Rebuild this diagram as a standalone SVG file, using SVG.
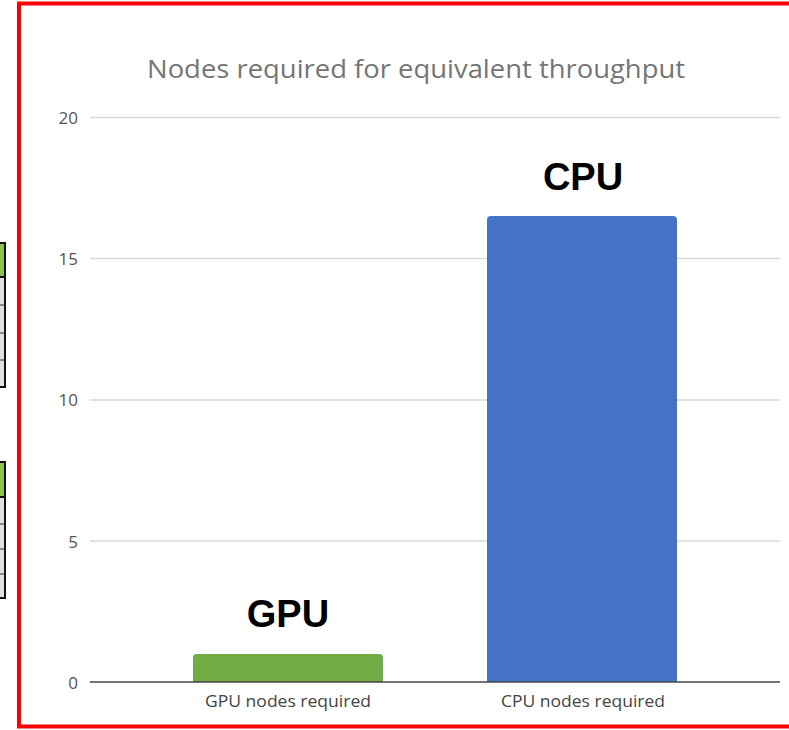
<svg xmlns="http://www.w3.org/2000/svg" width="789" height="730" viewBox="0 0 789 730">
<style>
.grid{stroke:#d9d9d9;stroke-width:1.5}
.tick{font-family:"Open Sans",sans-serif;font-size:17px;fill:#555;text-anchor:end}
.cat{font-family:"Open Sans",sans-serif;font-size:16.5px;fill:#444;text-anchor:middle}
.big{font-family:"Liberation Sans",Arial,sans-serif;font-size:38px;font-weight:bold;fill:#000;text-anchor:middle}
</style>
<rect width="789" height="730" fill="#fff"/>
<g id="fragments">
<rect x="-10" y="243" width="15" height="34" fill="#8dc34a" stroke="#111" stroke-width="2"/>
<rect x="-10" y="277" width="15" height="110" fill="#e0e0e0" stroke="#111" stroke-width="2"/>
<line x1="-10" y1="305" x2="5" y2="305" stroke="#333"/>
<line x1="-10" y1="333" x2="5" y2="333" stroke="#333"/>
<line x1="-10" y1="360" x2="5" y2="360" stroke="#333"/>
<rect x="-10" y="462" width="15" height="35" fill="#8dc34a" stroke="#111" stroke-width="2"/>
<rect x="-10" y="497" width="15" height="101" fill="#e0e0e0" stroke="#111" stroke-width="2"/>
<line x1="-10" y1="524" x2="5" y2="524" stroke="#333"/>
<line x1="-10" y1="549" x2="5" y2="549" stroke="#333"/>
<line x1="-10" y1="574" x2="5" y2="574" stroke="#333"/>
</g>
<g id="frame">
<rect x="19" y="3.5" width="790" height="723" fill="#fff" stroke="#ff0000" stroke-width="4"/>
</g>
<g id="title">
<text x="416" y="78" font-family="'Open Sans',sans-serif" font-size="26" fill="#757575" text-anchor="middle" textLength="538" lengthAdjust="spacingAndGlyphs">Nodes required for equivalent throughput</text>
</g>
<g id="axes">
<line class="grid" x1="90" y1="117.5" x2="780" y2="117.5"/>
<line class="grid" x1="90" y1="258.5" x2="780" y2="258.5"/>
<line class="grid" x1="90" y1="400" x2="780" y2="400"/>
<line class="grid" x1="90" y1="541" x2="780" y2="541"/>
<text class="tick" x="78" y="124">20</text>
<text class="tick" x="78" y="265">15</text>
<text class="tick" x="78" y="406">10</text>
<text class="tick" x="78" y="548">5</text>
<text class="tick" x="78" y="689">0</text>
</g>
<g id="bar-gpu">
<path d="M193 682 V658 Q193 654 197 654 H379 Q383 654 383 658 V682 Z" fill="#70ad47"/>
<text class="big" x="288" y="627">GPU</text>
<text class="cat" x="288" y="707" textLength="166" lengthAdjust="spacingAndGlyphs">GPU nodes required</text>
</g>
<g id="bar-cpu">
<path d="M487 682 V220 Q487 216 491 216 H673 Q677 216 677 220 V682 Z" fill="#4472c4"/>
<text class="big" x="583" y="190">CPU</text>
<text class="cat" x="583" y="707" textLength="164" lengthAdjust="spacingAndGlyphs">CPU nodes required</text>
</g>
<g id="connectors">
<line x1="90" y1="682" x2="780" y2="682" stroke="#444" stroke-width="1.5"/>
</g>
</svg>
